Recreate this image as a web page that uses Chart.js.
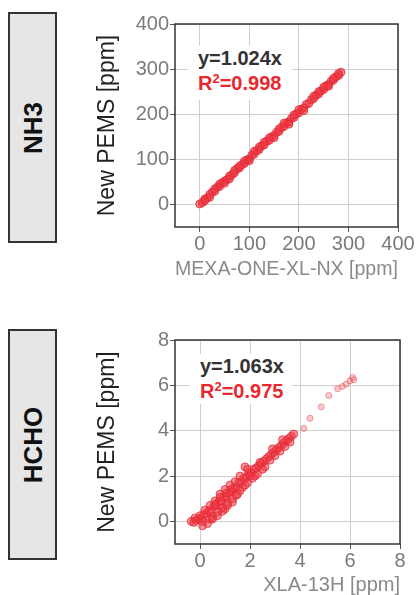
<!DOCTYPE html>
<html>
<head>
<meta charset="utf-8">
<script src="https://cdn.jsdelivr.net/npm/chart.js@4"></script>
<style>
  body { margin: 0; width: 418px; height: 595px; background: #fff; position: relative; overflow: hidden; font-family: "Liberation Sans", Arial, sans-serif; }
  .tag { position: absolute; left: 8px; width: 45px; background: #e6e6e7; border: 2px solid #333; }
  .tag span { position: absolute; left: 50%; top: 50%; transform: translate(-50%, -50%) rotate(-90deg); font-weight: bold; font-size: 26px; color: #111; white-space: nowrap; }
  .fit { position: absolute; background: #fff; font-weight: bold; font-size: 20px; line-height: 25px; padding-left: 10px; }
  .fit .eq { color: #333; }
  .fit .r2 { color: #e8282e; }
  .fit sup { font-size: 13px; vertical-align: 7px; line-height: 0; }
  .holder { position: absolute; left: 90px; }
</style>
</head>
<body>
<div class="tag" style="top:12px;height:227px"><span>NH3</span></div>
<div class="tag" style="top:329px;height:227px"><span>HCHO</span></div>

<div class="holder" style="top:0"><canvas id="nh3Chart" width="328" height="285"></canvas></div>
<div class="holder" style="top:300px"><canvas id="hchoChart" width="328" height="300"></canvas></div>

<div class="fit" style="left:188px;top:46px;width:94px;height:54px">
  <div class="eq">y=1.024x</div>
  <div class="r2">R<sup>2</sup>=0.998</div>
</div>
<div class="fit" style="left:190px;top:354px;width:92px;height:50px">
  <div class="eq">y=1.063x</div>
  <div class="r2">R<sup>2</sup>=0.975</div>
</div>

<script>
// NH3: MEXA-ONE-XL-NX vs New PEMS [ppm]
const nh3X = [0, 5, 10, 15, 20, 25, 30, 35, 40, 45, 50, 55, 60, 65, 70, 75, 80, 85, 90, 95,
  100, 105, 110, 115, 120, 125, 130, 135, 140, 145, 150, 155, 160, 165, 170, 175, 180, 185, 190, 195,
  200, 205, 210, 215, 220, 225, 230, 235, 240, 245, 250, 255, 260, 265, 270, 275, 280, 285,
  20, 60, 90, 110, 130, 150, 170, 200, 240, 270,
  10, 30, 40, 50, 70, 80, 100, 120, 140, 160, 180, 190, 210, 230, 250, 260, 280];
const nh3Y = [1, 4, 12, 14, 22, 27, 29, 38, 40, 48, 52, 55, 63, 66, 70, 79, 81, 88, 91, 99,
  101, 109, 112, 119, 122, 130, 132, 140, 142, 150, 153, 160, 162, 171, 173, 181, 183, 191, 193, 201,
  203, 211, 214, 222, 224, 232, 235, 242, 245, 252, 255, 263, 266, 273, 276, 283, 286, 293,
  16, 57, 96, 118, 138, 148, 180, 210, 250, 280,
  8, 34, 45, 47, 75, 85, 97, 127, 147, 167, 178, 198, 208, 240, 260, 262, 290];
const nh3Ticks = [0, 100, 200, 300, 400];

// HCHO: XLA-13H vs New PEMS [ppm]
const hchoX = [-0.35, -0.25, -0.15, -0.05, 0.05, 0.15, 0.25, 0.35, 0.45, 0.55, 0.65, 0.75, 0.85, 0.95,
  1.05, 1.15, 1.25, 1.35, 1.45, 1.55, 1.65, 1.75, 1.85, 1.95, 2.05, 2.15, 2.25, 2.35, 2.45, 2.55,
  2.65, 2.75, 2.85, 2.95, 3.05, 3.15, 3.25, 3.35, 3.45, 3.55, 3.65,
  0.1, 0.3, 0.5, 0.7, 0.9, 1.1, 1.3, 1.5, 0.2, 0.4, 0.6, 0.8, 1.0, 1.2, 1.6, 1.8, 2.0, 2.4,
  0.0, -0.2, 0.1, 0.4, 1.7, 1.9, 2.2, 2.6,
  0.9, 1.0, 1.1, 1.3, 0.7, 0.5, 0.8, 1.05, 0.6, 1.25, 1.45, 1.6, 1.8, 2.1, 2.3, 2.5,
  2.8, 3.0, 3.2, 3.4, 3.6, 2.9, 3.3, 3.75, 1.9, 1.4];
const hchoY = [0.0, -0.05, 0.05, 0.1, 0.15, 0.3, 0.35, 0.45, 0.5, 0.65, 0.7, 0.85, 0.9, 1.05,
  1.1, 1.25, 1.3, 1.45, 1.5, 1.7, 1.75, 1.9, 1.95, 2.1, 2.15, 2.3, 2.35, 2.45, 2.55, 2.65,
  2.75, 2.85, 2.95, 3.05, 3.15, 3.25, 3.35, 3.45, 3.55, 3.65, 3.75,
  -0.2, -0.1, 0.2, 0.4, 0.6, 0.8, 1.0, 1.2, 0.5, 0.7, 0.9, 1.2, 1.4, 1.6, 2.0, 2.4, 2.0, 2.6,
  0.25, 0.15, 0.0, 0.1, 1.5, 1.7, 2.0, 2.4,
  0.45, 0.55, 0.7, 0.85, 0.25, 0.1, 1.05, 1.25, 0.75, 1.4, 1.15, 1.35, 1.6, 1.9, 2.1, 2.3,
  2.7, 2.9, 3.1, 3.3, 3.5, 3.2, 3.6, 3.85, 2.3, 1.75];
const hchoTailX = [4.15, 4.4, 4.85, 5.15, 5.5, 5.7, 5.85, 6.0, 6.1, 6.15];
const hchoTailY = [4.1, 4.55, 5.05, 5.55, 5.85, 5.95, 6.05, 6.2, 6.35, 6.25];
const hchoTicks = [0, 2, 4, 6, 8];

const FONT = "'Liberation Sans', Arial, sans-serif";

const frame = {
  id: 'frame',
  afterDatasetsDraw(chart) {
    const { ctx, chartArea: a } = chart;
    ctx.save();
    ctx.strokeStyle = '#333';
    ctx.lineWidth = 1.5;
    ctx.strokeRect(a.left, a.top, a.right - a.left, a.bottom - a.top);
    ctx.restore();
  }
};

function pts(xs, ys) {
  return xs.map((x, i) => ({ x: x, y: ys[i] }));
}

function axis(min, max, ticks, title, isX, titlePad) {
  return {
    type: 'linear',
    min: min,
    max: max,
    afterBuildTicks: s => { s.ticks = ticks.map(v => ({ value: v })); },
    afterFit: s => { if (isX) s.height = titlePad.h; else s.width = 85; },
    grid: { color: '#cfcfcf', lineWidth: 1, tickLength: 5, tickColor: '#555' },
    border: { display: false },
    ticks: { color: '#7a7a7a', font: { family: FONT, size: 20 }, padding: isX ? 0 : 1 },
    title: isX
      ? { display: true, text: title, align: 'end', color: '#8a8a8a', font: { family: FONT, size: 20 }, padding: { top: 0, bottom: titlePad.b } }
      : { display: true, text: title, color: '#222', font: { family: FONT, size: 23 } }
  };
}

function pointStyle(r, bg, bd) {
  return { pointRadius: r, pointHoverRadius: r, backgroundColor: bg, borderColor: bd, borderWidth: 1, showLine: false };
}

function ShowCharts() {
  new Chart(document.getElementById('nh3Chart').getContext('2d'), {
    type: 'scatter',
    data: {
      datasets: [Object.assign({ label: 'NH3', data: pts(nh3X, nh3Y) },
        pointStyle(4, 'rgba(236,55,65,0.6)', 'rgba(228,40,52,0.8)'))]
    },
    options: {
      responsive: false,
      animation: false,
      layout: { padding: { top: 24, right: 20, left: 0, bottom: 0 } },
      plugins: { legend: { display: false }, tooltip: { enabled: false } },
      scales: {
        x: axis(-50, 400, nh3Ticks, 'MEXA-ONE-XL-NX [ppm]', true, { h: 58, b: 4 }),
        y: axis(-50, 400, nh3Ticks, 'New PEMS [ppm]', false)
      }
    },
    plugins: [frame]
  });

  new Chart(document.getElementById('hchoChart').getContext('2d'), {
    type: 'scatter',
    data: {
      datasets: [
        Object.assign({ label: 'HCHO', data: pts(hchoX, hchoY) },
          pointStyle(4, 'rgba(236,55,65,0.55)', 'rgba(228,40,52,0.75)')),
        Object.assign({ label: 'HCHO high', data: pts(hchoTailX, hchoTailY) },
          pointStyle(3, 'rgba(240,110,115,0.35)', 'rgba(232,80,90,0.55)'))
      ]
    },
    options: {
      responsive: false,
      animation: false,
      layout: { padding: { top: 40, right: 18, left: 0, bottom: 0 } },
      plugins: { legend: { display: false }, tooltip: { enabled: false } },
      scales: {
        x: axis(-1, 8, hchoTicks, 'XLA-13H [ppm]', true, { h: 56, b: 3 }),
        y: axis(-1, 8, hchoTicks, 'New PEMS [ppm]', false)
      }
    },
    plugins: [frame]
  });
}

window.addEventListener('DOMContentLoaded', ShowCharts);
</script>
</body>
</html>
